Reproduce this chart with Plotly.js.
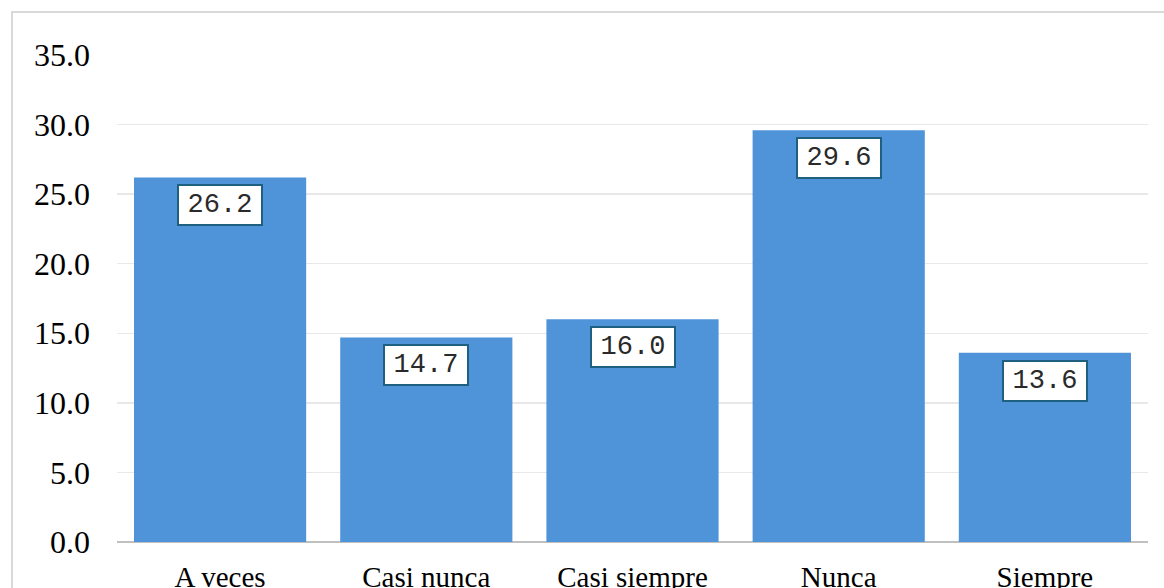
<!DOCTYPE html>
<html>
<head>
<meta charset="utf-8">
<script src="https://cdn.plot.ly/plotly-3.0.1.min.js"></script>
<style>
  html, body { margin: 0; padding: 0; background: #ffffff; }
  #wrap { position: relative; width: 1164px; height: 588px; overflow: hidden; }
  #chart { position: absolute; left: 0; top: 0; width: 1164px; height: 588px; }
  #frame { position: absolute; left: 11px; top: 11px; width: 1200px; height: 640px;
           border-left: 2px solid #d9d9d9; border-top: 2px solid #d9d9d9; pointer-events: none; }
</style>
</head>
<body>
<div id="wrap">
  <div id="chart"></div>
  <div id="frame"></div>
</div>
<script>
// Response categories and their percentages
const categories = ["A veces", "Casi nunca", "Casi siempre", "Nunca", "Siempre"];
const percentages = [26.2, 14.7, 16.0, 29.6, 13.6];
const yTickValues = [0, 5, 10, 15, 20, 25, 30, 35];

const barColor = "#4f94d8";
const labelBorder = "#1f5f80";
const serif = "'Liberation Serif', 'Times New Roman', serif";
const mono = "'Liberation Mono', 'Courier New', monospace";

const trace = {
  type: "bar",
  x: categories,
  y: percentages,
  marker: { color: barColor, line: { width: 0 } },
  hoverinfo: "skip"
};

// Boxed value labels sitting just inside the top of each bar
const labels = categories.map((c, i) => ({
  x: c,
  y: percentages[i],
  xref: "x",
  yref: "y",
  yanchor: "top",
  yshift: -7,
  text: percentages[i].toFixed(1),
  showarrow: false,
  font: { family: mono, size: 27, color: "#2a2a2a" },
  bgcolor: "#ffffff",
  bordercolor: labelBorder,
  borderwidth: 2,
  borderpad: 2,
  width: 78,
  height: 34
}));

const layout = {
  width: 1164,
  height: 588,
  margin: { l: 117, r: 16, t: 54.5, b: 45.5 },
  paper_bgcolor: "rgba(0,0,0,0)",
  plot_bgcolor: "#ffffff",
  bargap: 0.165,
  showlegend: false,
  font: { family: serif, color: "#000000" },
  xaxis: {
    tickfont: { size: 29, family: serif, color: "#000000" },
    ticks: "",
    showgrid: false,
    showline: false,
    zeroline: false,
    ticklabelstandoff: 15
  },
  yaxis: {
    range: [0, 35],
    tickvals: yTickValues,
    ticktext: yTickValues.map(v => v.toFixed(1)),
    tickfont: { size: 32, family: serif, color: "#000000" },
    ticks: "",
    showgrid: true,
    gridcolor: "#e8e8e8",
    gridwidth: 1.5,
    zeroline: true,
    zerolinecolor: "#c0c0c0",
    zerolinewidth: 2,
    showline: false,
    ticklabelstandoff: 26
  },
  annotations: labels
};

Plotly.newPlot("chart", [trace], layout, { staticPlot: true, displayModeBar: false });
</script>
</body>
</html>
